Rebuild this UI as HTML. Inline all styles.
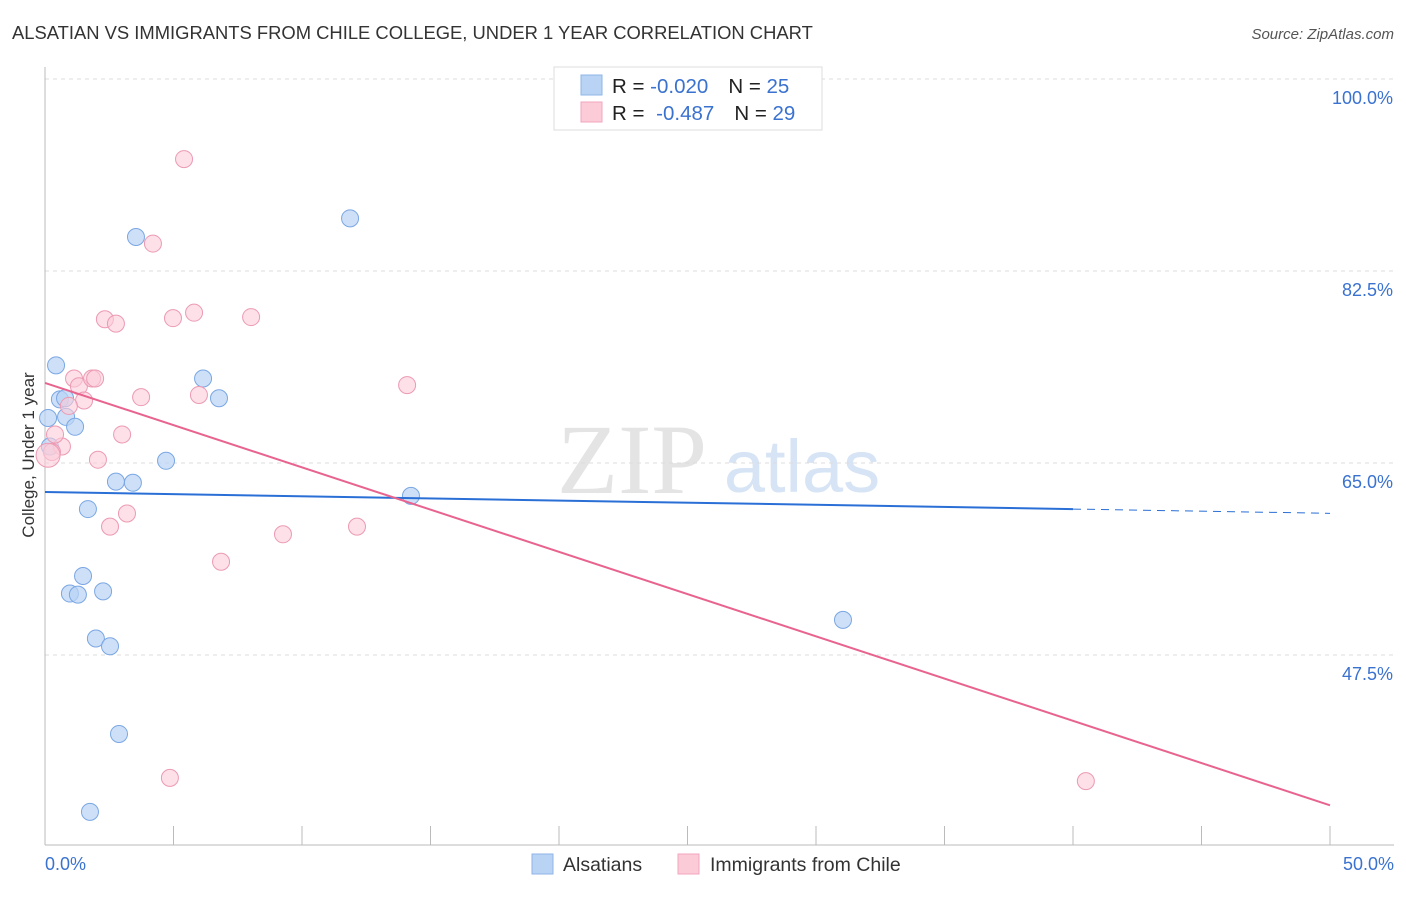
<!DOCTYPE html>
<html><head><meta charset="utf-8"><style>
body{margin:0;background:#fff;font-family:"Liberation Sans",sans-serif;}
</style></head><body>
<svg id="c" width="1406" height="892" xmlns="http://www.w3.org/2000/svg">
<text x="12" y="39" font-size="18.4" fill="#333">ALSATIAN VS IMMIGRANTS FROM CHILE COLLEGE, UNDER 1 YEAR CORRELATION CHART</text>
<text x="1394" y="39" font-size="15" fill="#555" font-style="italic" text-anchor="end">Source: ZipAtlas.com</text>
<text x="632" y="493" font-size="100" fill="#e4e4e4" font-family="Liberation Serif,serif" text-anchor="middle">ZIP</text>
<text x="802" y="492" font-size="74" fill="#d6e4f5" text-anchor="middle">atlas</text>
<text transform="translate(34,455) rotate(-90)" font-size="17" fill="#333" text-anchor="middle">College, Under 1 year</text>
<g id="grid"></g><g id="marks"></g>
<rect x="554" y="67" width="268" height="63" fill="#fff" stroke="#ddd"/>
<rect x="581" y="75" width="21" height="20" fill="#b9d3f5" stroke="#8fb5e8"/>
<rect x="581" y="102" width="21" height="20" fill="#fccbd8" stroke="#f0a5bc"/>
<text x="612" y="93" font-size="20.5" fill="#222">R = <tspan fill="#3a72d0">-0.020</tspan><tspan dx="20">N = </tspan><tspan fill="#3a72d0">25</tspan></text>
<text x="612" y="120" font-size="20.5" fill="#222">R = <tspan fill="#3a72d0" dx="6">-0.487</tspan><tspan dx="20">N = </tspan><tspan fill="#3a72d0">29</tspan></text>
<rect x="532" y="854" width="21" height="20" fill="#b9d3f5" stroke="#8fb5e8"/>
<text x="563" y="871" font-size="19.5" fill="#333">Alsatians</text>
<rect x="678" y="854" width="21" height="20" fill="#fccbd8" stroke="#f0a5bc"/>
<text x="710" y="871" font-size="19.5" fill="#333">Immigrants from Chile</text>
</svg>
<script>
const yTicks=[100,82.5,65,47.5];
const yTickLabels=["100.0%","82.5%","65.0%","47.5%"];
const xTickLabels=["0.0%","50.0%"];
const blueX=[0.12,0.19,0.43,0.58,0.78,0.82,1.17,1.67,1.48,0.97,1.28,2.26,1.98,2.53,2.88,1.75,2.76,3.42,4.71,3.54,6.15,6.77,11.87,14.24,31.05];
const blueY=[69.1,66.5,73.9,70.8,70.9,69.2,68.3,60.8,54.7,53.1,53.0,53.3,49.0,48.3,40.3,33.2,63.3,63.2,65.2,85.6,72.7,70.9,87.3,62.0,50.7];
const pinkX=[5.41,4.20,2.33,2.76,4.98,5.80,8.02,1.13,1.32,1.83,1.95,1.52,0.93,3.74,5.99,14.09,3.00,2.06,0.66,0.39,0.27,2.53,3.19,9.26,12.14,6.85,4.86,40.5,0.12];
const pinkY=[92.7,85.0,78.1,77.7,78.2,78.7,78.3,72.7,72.0,72.7,72.7,70.7,70.2,71.0,71.2,72.1,67.6,65.3,66.5,67.6,66.0,59.2,60.4,58.5,59.2,56.0,36.3,36.0,65.7];
const blueTrend=[62.35,60.8]; // y at x=0, x=40
const pinkTrend=[72.3,33.8];  // y at x=0, x=50
const X=v=>45+v*25.7, Y=v=>79+(100-v)*10.971;
const NS="http://www.w3.org/2000/svg";
function mk(t,a,p){const e=document.createElementNS(NS,t);for(const k in a)e.setAttribute(k,a[k]);p.appendChild(e);return e;}
const g=document.getElementById('grid'),m=document.getElementById('marks');
yTicks.forEach((t,i)=>{
 const l=mk('line',{x1:45,x2:1394,y1:Y(t),y2:Y(t),stroke:'#ddd','stroke-dasharray':'4,4'},g);
 
 
 const tx=mk('text',{x:1393,y:Y(t)+25,'font-size':18,fill:'#3a72d0','text-anchor':'end'},g);
 tx.textContent=yTickLabels[i];
 
 
});
const ax=mk('line',{x1:45,x2:1394,y1:845,y2:845,stroke:'#bbb'},g);


const ay=mk('line',{x1:45,x2:45,y1:67,y2:845,stroke:'#bbb'},g);


for(let i=0;i<=10;i++){
 const t=mk('line',{x1:X(i*5),x2:X(i*5),y1:826,y2:845,stroke:'#bbb'},g);
 
 
}
[[0,45,'start'],[50,1394,'end']].forEach((d,i)=>{
 const tx=mk('text',{x:d[1],y:870,'font-size':18,fill:'#3a72d0','text-anchor':d[2]},g);
 tx.textContent=xTickLabels[i];
 
 
});
blueX.forEach((x,i)=>{
 const c=mk('circle',{cx:X(x),cy:Y(blueY[i]),r:8.5,fill:'#b9d3f5','fill-opacity':0.7,stroke:'#7aa7e3','stroke-width':1},m);
 
 
});
pinkX.forEach((x,i)=>{
 const c=mk('circle',{cx:X(x),cy:Y(pinkY[i]),r:i==pinkX.length-1?12:8.5,fill:'#fccbd8','fill-opacity':0.6,stroke:'#ec9ab3','stroke-width':1},m);
 
 
});
const slopeB=(blueTrend[1]-blueTrend[0])/40;
const bl=mk('line',{x1:X(0),y1:Y(blueTrend[0]),x2:X(40),y2:Y(blueTrend[1]),stroke:'#2a6fd6','stroke-width':2},m);


const bd=mk('line',{x1:X(40),y1:Y(blueTrend[1]),x2:X(50),y2:Y(blueTrend[0]+slopeB*50),stroke:'#2a6fd6','stroke-width':1,'stroke-dasharray':'8,6'},m);


const pl=mk('line',{x1:X(0),y1:Y(pinkTrend[0]),x2:X(50),y2:Y(pinkTrend[1]),stroke:'#e8648f','stroke-width':2},m);


</script>
</body></html>
